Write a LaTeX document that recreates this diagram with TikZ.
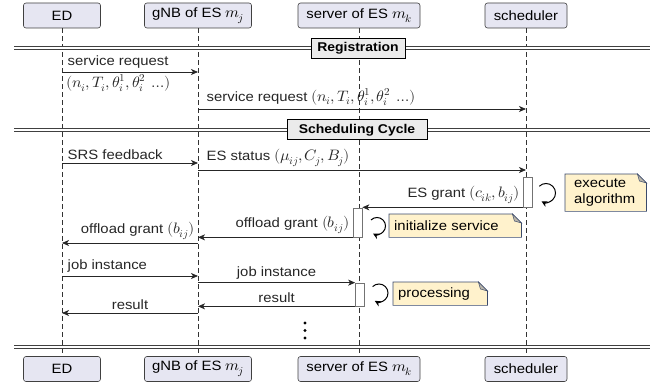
\documentclass[tikz,border=0pt]{standalone}
\usepackage{fontspec}
\usepackage{unicode-math}
\setmainfont{Liberation Sans}[FakeStretch=1.1]
\setmathfont{Latin Modern Math}[Scale=1.12,FakeStretch=1.05]
\usepackage{tikz}
\usetikzlibrary{positioning,arrows.meta}

\definecolor{headfill}{HTML}{E6E6F2}
\definecolor{notefill}{HTML}{FFF2CC}
\definecolor{noteline}{HTML}{3B4A6B}
\definecolor{foldfill}{HTML}{B9B5AA}

\newcommand{\foldnote}[1]{%
  \fill[white] ([xshift=-9pt]#1.north east) -- (#1.north east) -- ([yshift=-9pt]#1.north east) -- cycle;
  \draw[noteline,line width=0.7pt] (#1.north west) -- ([xshift=-9pt]#1.north east) -- ([yshift=-9pt]#1.north east) -- (#1.south east) -- (#1.south west) -- cycle;
  \filldraw[fill=foldfill,draw=noteline,line width=0.5pt] ([xshift=-9pt]#1.north east) -- ([yshift=-9pt]#1.north east) -- ([xshift=-7pt,yshift=-7pt]#1.north east) -- cycle;}

\begin{document}
\begin{tikzpicture}[x=1pt,y=-1pt,
  every node/.style={font=\fontsize{13.5}{16.2}\selectfont},
  head/.style={draw=black!75,fill=headfill,rounded corners=2.5pt,minimum height=25pt,inner sep=1pt,line width=0.6pt},
  life/.style={black!80,dash pattern=on 5pt off 3pt,line width=0.6pt},
  phase/.style={draw=black!75,double=white,double distance=1.5pt,line width=0.8pt},
  phasebox/.style={draw=black,line width=1pt,fill=black!8,font=\fontsize{12.7}{15}\selectfont\bfseries,minimum height=20pt},
  msg/.style={-{Stealth[length=7pt,width=6pt,inset=2pt]},line width=0.8pt,black!85},
  act/.style={draw=black!55,fill=white,line width=0.7pt,minimum width=9pt,inner sep=0pt},
  selfloop/.style={-{Stealth[length=6pt,width=6pt,inset=2pt]},line width=1pt},
  note/.style={anchor=north west,fill=notefill,inner xsep=5pt,inner ysep=2pt,align=left}]
\useasboundingbox (0,0) rectangle (657,387);

\node[head,minimum width=77pt] (ed) at (62,15.5) {ED};
\node[head,minimum width=107pt] (gnb) at (198,15.5) {gNB of ES $m_j$};
\node[head,minimum width=122pt] (srv) at (359,15.5) {server of ES $m_k$};
\node[head,minimum width=82pt] (sch) at (526,15.5) {scheduler};
\node[head,minimum width=77pt] (edb) at (62,369) {ED};
\node[head,minimum width=107pt] (gnbb) at (198,369) {gNB of ES $m_j$};
\node[head,minimum width=122pt] (srvb) at (359,369) {server of ES $m_k$};
\node[head,minimum width=82pt] (schb) at (526,369) {scheduler};

\draw[life] (ed) -- (edb);
\draw[life] (gnb) -- (gnbb);
\draw[life] (srv) -- (srvb);
\draw[life] (sch) -- (schb);

\coordinate (regl) at (14,48);
\coordinate (regr) at (650,48);
\coordinate (cycl) at (14,130);
\coordinate (cycr) at (650,130);
\coordinate (endl) at (14,347);
\coordinate (endr) at (650,347);
\draw[phase] (regl) -- (regr);
\draw[phase] (cycl) -- (cycr);
\draw[phase] (endl) -- (endr);
\node[phasebox,minimum width=94pt] (reg) at (358,48.5) {Registration};
\node[phasebox,minimum width=140pt] (cyc) at (357,130) {Scheduling Cycle};

\coordinate (m1) at (0,72);
\coordinate (m2) at (0,109);
\coordinate (m3) at (0,163);
\coordinate (m4) at (0,170);
\coordinate (m7) at (0,243);
\coordinate (m8) at (0,276);
\coordinate (m11) at (0,313);

\node[act,minimum height=30pt] (runalg) at (528,192) {};
\node[act,minimum height=29pt] (initsrv) at (357.5,222.5) {};
\node[act,minimum height=23pt] (proc) at (360,294.5) {};

\draw[msg] (ed |- m1) -- node[pos=0,above right,xshift=2pt] {service request}
  node[pos=0,below right,xshift=1pt,yshift=1pt] {$(n_i,T_i,\theta_i^1,\theta_i^2\ \ldots)$} (gnb |- m1);
\draw[msg] (gnb |- m2) -- node[pos=0,above right,xshift=5pt] {service request $(n_i,T_i,\theta_i^1,\theta_i^2\ \ldots)$} (sch |- m2);
\draw[msg] (ed |- m3) -- node[pos=0,above right,xshift=2pt] {SRS feedback} (gnb |- m3);
\draw[msg] (gnb |- m4) -- node[pos=0,above right,xshift=5pt] {ES status $(\mu_{ij},C_j,B_j)$} (sch |- m4);
\draw[msg] (runalg.south west) -- node[pos=0,above left] {ES grant $(c_{ik},b_{ij})$} (runalg.south west -| initsrv.east);
\draw[msg] (initsrv.south west) -- node[pos=0,above left] {offload grant $(b_{ij})$} (initsrv.south west -| gnb);
\draw[msg] (gnb |- m7) -- node[pos=0,above left] {offload grant $(b_{ij})$} (ed |- m7);
\draw[msg] (ed |- m8) -- node[pos=0,above right,xshift=2pt] {job instance} (gnb |- m8);
\draw[msg] (gnb |- proc.north) -- node[midway,above] {job instance} (proc.north west);
\draw[msg] (proc.south west) -- node[midway,above] {result} (proc.south west -| gnb);
\draw[msg] (gnb |- m11) -- node[midway,above] {result} (ed |- m11);

\coordinate (loopa) at (546,193);
\coordinate (loopb) at (377,226);
\coordinate (loopc) at (379,293);
\draw[selfloop] (loopa) ++(135:9.5pt) arc[start angle=135,end angle=-118,radius=9.5pt];
\draw[selfloop] (loopb) ++(135:8.5pt) arc[start angle=135,end angle=-118,radius=8.5pt];
\draw[selfloop] (loopc) ++(135:9pt) arc[start angle=135,end angle=-118,radius=9pt];

\node[note,inner xsep=9pt,text width=63pt,minimum height=37pt] (noteA) at (565,174) {execute\\algorithm};
\foldnote{noteA}
\node[note,text width=122pt,minimum height=23pt] (noteB) at (389,214) {initialize service};
\foldnote{noteB}
\node[note,text width=84pt,minimum height=23pt] (noteC) at (393,282) {processing};
\foldnote{noteC}

\fill (305,323) circle[radius=1.7pt];
\fill (305,330.5) circle[radius=1.7pt];
\fill (305,338) circle[radius=1.7pt];
\end{tikzpicture}
\end{document}
